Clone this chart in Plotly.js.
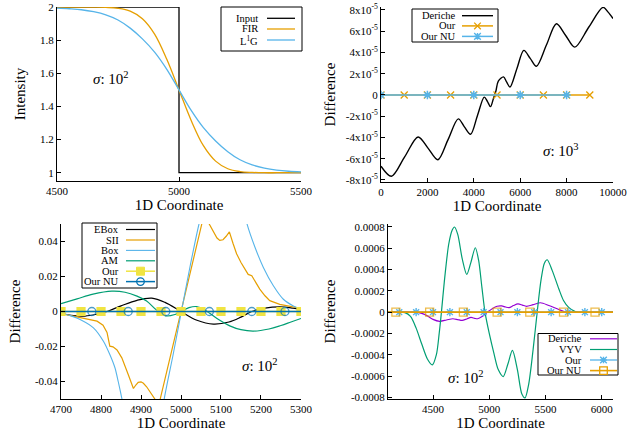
<!DOCTYPE html>
<html><head><meta charset="utf-8">
<script src="https://cdn.plot.ly/plotly-3.0.1.min.js"></script>
<style>html,body{margin:0;padding:0;background:#fff}#chart{width:640px;height:434px}</style>
</head><body><div id="chart"></div>
<script>
// ---------------- DATA ----------------
// Panel 1 (Intensity)
const p1InputX = [4500, 5000, 5500];
const p1InputY = [2, 1, 1];
const p1X = [4500,4550,4600,4650,4700,4750,4800,4850,4900,4950,5000,5050,5100,5150,5200,5250,5300,5350,5400,5450,5500];
const p1FIR = [2.0,2.0,2.0,1.9995,1.998,1.993,1.976,1.930,1.837,1.685,1.5,1.315,1.163,1.070,1.024,1.007,1.002,1.0,1.0,1.0,1.0];
const p1L1G = [1.994,1.990,1.984,1.972,1.953,1.922,1.873,1.808,1.728,1.624,1.5,1.376,1.272,1.192,1.127,1.078,1.047,1.028,1.016,1.009,1.005];

// Panel 2 (sigma 10^3)
const p2DericheX = [0,450,1025,1600,2025,2450,2890,3330,3595,3860,4155,4450,4585,4720,4850,4950,5057,5280,5420,5560,5860,6156,6430,6700,7130,7562,7960,8352,8960,9571,9790,10000];
const p2DericheY = [-6.7e-5,-7.65e-5,-5.8e-5,-3.95e-5,-5.0e-5,-6.1e-5,-4.2e-5,-2.25e-5,-3.0e-5,-3.7e-5,-1.95e-5,-0.2e-5,-0.6e-5,-1.1e-5,-0.3e-5,0.35e-5,1.3e-5,1.7e-5,1.2e-5,0.75e-5,2.5e-5,4.2e-5,3.45e-5,2.7e-5,4.7e-5,6.7e-5,5.6e-5,4.5e-5,6.4e-5,8.25e-5,7.8e-5,7.2e-5];
const p2OurX = [0,1000,2000,3000,4000,5000,6000,7000,8000,9000];
const p2OurY = [0,0,0,0,0,0,0,0,0,0];
const p2OurNUX = [0,2000,4000,6000,8000];
const p2OurNUY = [0,0,0,0,0];
const p2YTickVals = [-8e-5,-6e-5,-4e-5,-2e-5,0,2e-5,4e-5,6e-5,8e-5];
const p2YTickText = ['-8x10<sup>-5</sup>','-6x10<sup>-5</sup>','-4x10<sup>-5</sup>','-2x10<sup>-5</sup>','0','2x10<sup>-5</sup>','4x10<sup>-5</sup>','6x10<sup>-5</sup>','8x10<sup>-5</sup>'];

// Panel 3 (sigma 10^2, box family)
const p3EBoxX = [4700,4725,4760,4790,4815,4850,4890,4927,4960,5000,5040,5081,5120,5150,5177,5210,5247,5280,5300];
const p3EBoxY = [-0.0010,-0.0022,-0.0026,-0.0015,0,0.0032,0.0064,0.0076,0.0052,0,-0.0050,-0.0072,-0.0060,-0.0032,0,0.0019,0.0026,0.0019,0.0012];
const p3SIIX = [4700,4720,4748,4772,4790,4805,4815,4822,4830,4840,4852,4868,4881,4887,4893,4900,4906,4914,4922,4932,4939,4944,4948,4960,4975,4990,5000,5010,5025,5040,5052,5056,5068,5080,5090,5097,5105,5113,5121,5130,5139,5150,5160,5168,5177,5187,5197,5210,5222,5247,5272,5300];
const p3SIIY = [-0.0012,-0.0022,-0.0038,-0.0046,-0.0055,-0.0078,-0.0120,-0.0198,-0.0202,-0.0220,-0.0265,-0.0360,-0.0440,-0.0420,-0.0405,-0.0402,-0.0410,-0.0430,-0.0457,-0.0490,-0.0515,-0.0560,-0.0500,-0.0385,-0.0240,-0.0095,0,0.0095,0.0240,0.0385,0.0500,0.0560,0.0510,0.0460,0.0420,0.0406,0.0410,0.0430,0.0455,0.0390,0.0330,0.0280,0.0243,0.0212,0.0204,0.0165,0.0128,0.0090,0.0062,0.0041,0.0030,0.0018];
const p3BoxX = [4700,4725,4750,4781,4806,4822,4835,4843,4852,4880,4910,4940,4958,4980,5001,5022,5045,5080,5110,5140,5164,5185,5206,5231,5256,5281,5300];
const p3BoxY = [-0.0010,-0.0025,-0.0048,-0.0093,-0.0170,-0.0246,-0.0323,-0.0400,-0.0496,-0.0800,-0.0950,-0.0800,-0.0500,-0.0250,0,0.0250,0.0500,0.0800,0.0950,0.0800,0.0510,0.0367,0.0252,0.0147,0.0070,0.0032,0.0013];
const p3AMX = [4700,4740,4780,4827,4860,4890,4914,4939,4962,4985,5000,5020,5039,5062,5090,5122,5150,5181,5220,5250,5275,5300];
const p3AMY = [0.0045,0.0072,0.0099,0.0116,0.0110,0.0088,0.0060,0.0008,-0.0025,-0.0017,0,0.0022,0.0028,0.0005,-0.0040,-0.0082,-0.0104,-0.0112,-0.0100,-0.0080,-0.0060,-0.0040];
const p3OurX = [4700,4750,4800,4850,4900,4950,5000,5050,5100,5150,5200,5250,5300];
const p3OurY = [0,0,0,0,0,0,0,0,0,0,0,0,0];
const p3OurNUX = [4700,4777,4868,4962,5071,5177,5260,5300];
const p3OurNUY = [0,0,0,0,0,0,0,0];
const p3YTickVals = [-0.04,-0.02,0,0.02,0.04];
const p3YTickText = ['-0.04','-0.02','0','0.02','0.04'];

// Panel 4 (sigma 10^2, recursive family)
const p4DericheX = [4100,4350,4400,4450,4500,4559,4620,4676,4720,4759,4800,4838,4870,4897,4940,4985,5030,5070,5110,5145,5176,5215,5255,5295,5330,5390,5456,5530,5618,5676,5720,6100];
const p4DericheY = [0,0,-0.12e-4,-0.35e-4,-0.68e-4,-0.86e-4,-0.74e-4,-0.62e-4,-0.70e-4,-0.78e-4,-0.64e-4,-0.50e-4,-0.58e-4,-0.62e-4,-0.38e-4,0,0.35e-4,0.55e-4,0.58e-4,0.48e-4,0.42e-4,0.62e-4,0.77e-4,0.66e-4,0.55e-4,0.70e-4,0.88e-4,0.62e-4,0.25e-4,0.03e-4,0,0];
const p4VYVX = [4100,4200,4250,4300,4350,4400,4450,4494,4530,4555,4575,4600,4640,4670,4691,4720,4760,4800,4835,4876,4905,4935,4962,5000,5040,5080,5124,5165,5206,5250,5290,5318,5350,5390,5426,5460,5490,5515,5560,5618,5660,5706,5765,5800,6100];
const p4VYVY = [0,0,-0.05e-4,-0.4e-4,-1.5e-4,-3.0e-4,-4.4e-4,-4.96e-4,-4.0e-4,-2.0e-4,0,2.8e-4,6.4e-4,7.7e-4,8.0e-4,7.3e-4,5.0e-4,3.55e-4,4.6e-4,6.05e-4,4.9e-4,2.3e-4,0,-2.0e-4,-3.8e-4,-5.4e-4,-6.05e-4,-4.9e-4,-3.6e-4,-5.4e-4,-7.7e-4,-8.06e-4,-6.8e-4,-3.5e-4,0,3.0e-4,4.6e-4,4.92e-4,3.9e-4,2.2e-4,1.1e-4,0.45e-4,0.05e-4,0,0];
const p4OurX = [4200,4350,4500,4650,4800,4950,5100,5250,5400,5550,5700,5850,6000];
const p4OurY = [0,0,0,0,0,0,0,0,0,0,0,0,0];
const p4OurNUX = [4100,4170,4470,4770,5070,5360,5660,5940,6100];
const p4OurNUY = [0,0,0,0,0,0,0,0,0];
const p4YTickVals = [-0.0008,-0.0006,-0.0004,-0.0002,0,0.0002,0.0004,0.0006,0.0008];
const p4YTickText = ['-0.0008','-0.0006','-0.0004','-0.0002','0','0.0002','0.0004','0.0006','0.0008'];

// ---------------- STYLE / LAYOUT ----------------
const W = 640, H = 434;
const fx = v => v / W, fy = v => 1 - v / H;
const FONT = 'Liberation Serif, Times New Roman, serif';
const C = {black:'#000000', orange:'#E69F00', sky:'#56B4E9', green:'#009E73', yellow:'#F0E442', blue:'#0072B2', purple:'#9400D3'};

const traces = [];
function add(p, x, y, o) {
  const s = p === 1 ? '' : String(p);
  const t = {type:'scatter', x:x, y:y, xaxis:'x'+s, yaxis:'y'+s, name:o.name,
    mode: o.symbol ? 'lines+markers' : 'lines', hoverinfo:'skip',
    line:{color:o.color, width:o.width || 1.3, shape:o.shape || 'linear', smoothing:o.smoothing || 1}};
  if (o.symbol) t.marker = {symbol:o.symbol, size:o.size || 7, color:o.color, line:{color:o.color, width:o.mlw || 1.2}};
  traces.push(t);
  return o;
}

// Panel 1
const L1 = [
  add(1, p1InputX, p1InputY, {name:'Input', color:C.black, width:1.3, shape:'hv'}),
  add(1, p1X, p1FIR, {name:'FIR', color:C.orange, width:1.3, shape:'spline'}),
  add(1, p1X, p1L1G, {name:'L<sup>1</sup>G', color:C.sky, width:1.3, shape:'spline'})
];
// Panel 2
const L2 = [
  add(2, p2DericheX, p2DericheY, {name:'Deriche', color:C.black, width:1.4, shape:'spline', smoothing:0.9}),
  add(2, p2OurX, p2OurY, {name:'Our', color:C.orange, width:1.5, symbol:'x-thin-open', size:7, mlw:1.3}),
  add(2, p2OurNUX, p2OurNUY, {name:'Our NU', color:C.sky, width:1.5, symbol:'asterisk-open', size:7, mlw:1.5})
];
// Panel 3
const L3 = [
  add(3, p3EBoxX, p3EBoxY, {name:'EBox', color:C.black, width:1.2, shape:'spline'}),
  add(3, p3SIIX, p3SIIY, {name:'SII', color:C.orange, width:1.2}),
  add(3, p3BoxX, p3BoxY, {name:'Box', color:C.sky, width:1.1, shape:'spline', smoothing:0.6}),
  add(3, p3AMX, p3AMY, {name:'AM', color:C.green, width:1.2, shape:'spline'}),
  add(3, p3OurX, p3OurY, {name:'Our', color:C.yellow, width:1.5, symbol:'square', size:8}),
];
const p3nu = add(3, p3OurNUX, p3OurNUY, {name:'Our NU', color:C.blue, width:1.5, symbol:'circle-open', size:8, mlw:1.3});
traces[traces.length-1].marker.size = p3OurNUX.map((v,i) => (i === 0 || i === p3OurNUX.length-1) ? 0 : 8);
L3.push(p3nu);
// Panel 4
const L4 = [
  add(4, p4DericheX, p4DericheY, {name:'Deriche', color:C.purple, width:1.2, shape:'spline', smoothing:0.8}),
  add(4, p4VYVX, p4VYVY, {name:'VYV', color:C.green, width:1.2, shape:'spline', smoothing:0.8}),
  add(4, p4OurX, p4OurY, {name:'Our', color:C.sky, width:1.3, symbol:'asterisk-open', size:7, mlw:1.4})
];
const p4nu = add(4, p4OurNUX, p4OurNUY, {name:'Our NU', color:C.orange, width:1.6, symbol:'square-open', size:8, mlw:1.3});
traces[traces.length-1].marker.size = p4OurNUX.map((v,i) => (i === 0 || i === p4OurNUX.length-1) ? 0 : 8);
L4.push(p4nu);

// axes
function xax(dom, range, dtick, anchor) {
  return {domain:[fx(dom[0]), fx(dom[1])], range:range, dtick:dtick, tickformat:'d', anchor:anchor,
    showline:true, linecolor:'#000', linewidth:1, ticks:'inside', ticklen:4, tickcolor:'#000',
    showgrid:false, zeroline:false, tickfont:{family:FONT, size:11, color:'#000'},
    title:{text:'1D Coordinate', font:{family:FONT, size:15, color:'#000'}, standoff:2}};
}
function yax(dom, range, anchor, title, standoff, extra) {
  return Object.assign({domain:[fy(dom[1]), fy(dom[0])], range:range, anchor:anchor,
    showline:true, linecolor:'#000', linewidth:1, ticks:'inside', ticklen:4, tickcolor:'#000',
    showgrid:false, zeroline:false, tickfont:{family:FONT, size:11, color:'#000'},
    title:{text:title, font:{family:FONT, size:15, color:'#000'}, standoff:standoff}}, extra || {});
}

const layout = {
  width:W, height:H, margin:{l:0, r:0, t:0, b:0}, paper_bgcolor:'#fff', plot_bgcolor:'#fff',
  showlegend:false, font:{family:FONT, color:'#000'},
  xaxis:  xax([57,301],  [4500,5500], 500, 'y'),
  yaxis:  yax([7,181],   [0.95,2.0005], 'x', 'Intensity', 10, {dtick:0.2, tick0:0}),
  xaxis2: xax([381,613], [0,10000], 2000, 'y2'),
  yaxis2: yax([7,182],   [-8.19e-5,8.28e-5], 'x2', 'Difference', 6, {tickvals:p2YTickVals, ticktext:p2YTickText}),
  xaxis3: xax([61,301],  [4699.9,5300.1], 100, 'y3'),
  yaxis3: yax([224,399], [-0.05,0.05], 'x3', 'Difference', 10, {tickvals:p3YTickVals, ticktext:p3YTickText}),
  xaxis4: xax([388,613], [4100,6100], 500, 'y4'),
  yaxis4: yax([224,399], [-0.000816,0.000828], 'x4', 'Difference', 11, {tickvals:p4YTickVals, ticktext:p4YTickText}),
  shapes:[], annotations:[]
};

// sigma labels
[[111,78,'2'],[561,150,'3'],[260,365,'2'],[466,377,'2']].forEach(a => {
  layout.annotations.push({xref:'paper', yref:'paper', x:fx(a[0]), y:fy(a[1]), xanchor:'center', yanchor:'middle',
    showarrow:false, text:'<i>σ</i>: 10<sup>'+a[2]+'</sup>', font:{family:FONT, size:15, color:'#000'}});
});

// custom legends (text right-aligned, sample on the right, like the source)
function legend(entries, spec) {
  const b = spec.box;
  layout.shapes.push({type:'rect', xref:'paper', yref:'paper', x0:fx(b[0]), x1:fx(b[2]), y0:fy(b[3]), y1:fy(b[1]),
    line:{color:'#000', width:1}, fillcolor:'#fff', layer:'above'});
  entries.forEach((e, i) => {
    const yy = spec.rows[i];
    layout.annotations.push({xref:'paper', yref:'paper', x:fx(spec.textRight), y:fy(yy), xanchor:'right', yanchor:'middle',
      showarrow:false, borderpad:0, text:e.name, font:{family:FONT, size:10.5, color:'#000'}});
    layout.shapes.push({type:'line', xref:'paper', yref:'paper', x0:fx(spec.line[0]), x1:fx(spec.line[1]), y0:fy(yy), y1:fy(yy),
      line:{color:e.color, width:e.width || 1.3}, layer:'above'});
    if (e.symbol) {
      const cx = (spec.line[0] + spec.line[1]) / 2, r = 3.3;
      const L = (x0,y0,x1,y1) => 'M'+fx(x0)+','+fy(y0)+'L'+fx(x1)+','+fy(y1);
      let sh;
      if (e.symbol === 'x-thin-open') {
        sh = {type:'path', path:L(cx-r,yy-r,cx+r,yy+r)+L(cx-r,yy+r,cx+r,yy-r), line:{color:e.color, width:1.3}};
      } else if (e.symbol === 'asterisk-open') {
        sh = {type:'path', path:L(cx-r,yy-r,cx+r,yy+r)+L(cx-r,yy+r,cx+r,yy-r)+L(cx-r,yy,cx+r,yy)+L(cx,yy-r,cx,yy+r), line:{color:e.color, width:1.4}};
      } else if (e.symbol === 'square') {
        sh = {type:'rect', x0:fx(cx-4), x1:fx(cx+4), y0:fy(yy+4), y1:fy(yy-4), fillcolor:e.color, line:{color:e.color, width:1}};
      } else if (e.symbol === 'square-open') {
        sh = {type:'rect', x0:fx(cx-3.8), x1:fx(cx+3.8), y0:fy(yy+3.8), y1:fy(yy-3.8), fillcolor:'rgba(0,0,0,0)', line:{color:e.color, width:1.3}};
      } else if (e.symbol === 'circle-open') {
        sh = {type:'circle', x0:fx(cx-3.8), x1:fx(cx+3.8), y0:fy(yy+3.8), y1:fy(yy-3.8), fillcolor:'rgba(0,0,0,0)', line:{color:e.color, width:1.3}};
      }
      sh.xref = 'paper'; sh.yref = 'paper'; sh.layer = 'above';
      layout.shapes.push(sh);
    }
  });
}
legend(L1, {box:[221,7,302,51], textRight:259, line:[267,295], rows:[18.3,29,40]});
legend(L2, {box:[412,9,498,42], textRight:457, line:[462,493], rows:[15.7,25.9,36.4]});
legend(L3, {box:[82,223,157,288], textRight:120, line:[126,155], rows:[229.5,240,250.4,260.8,271.2,281.6]});
legend(L4, {box:[538,333.5,618,375], textRight:583, line:[590,617], rows:[338.8,349.5,360,370.6]});

Plotly.newPlot('chart', traces, layout, {displayModeBar:false, staticPlot:true});
</script>
</body></html>
